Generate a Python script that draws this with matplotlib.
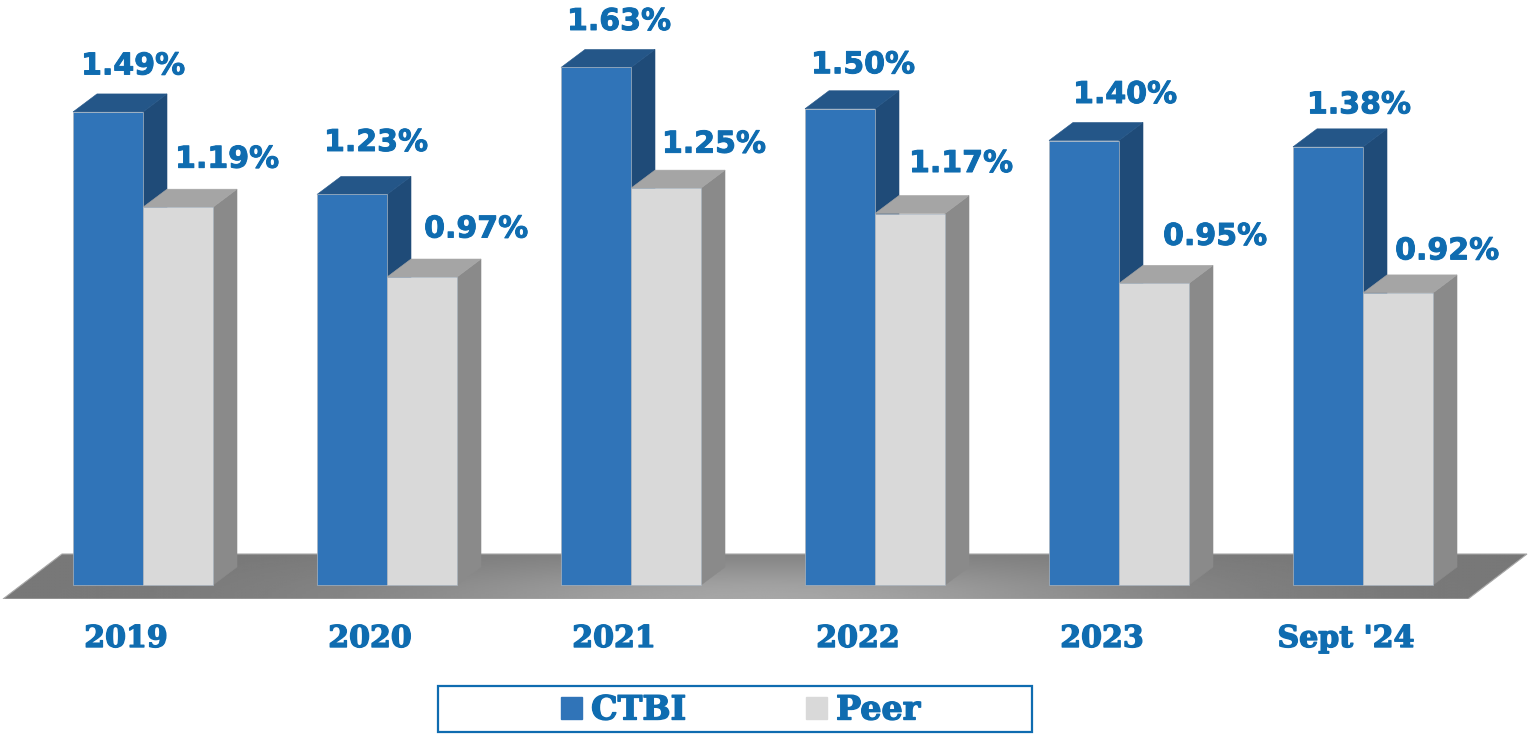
import numpy as np
from matplotlib import pyplot as plt
from matplotlib import patheffects as pe
from matplotlib.patches import Patch, Polygon, Rectangle

categories = ['2019', '2020', '2021', '2022', '2023', "Sept '24"]
ctbi = [1.49, 1.23, 1.63, 1.50, 1.40, 1.38]
peer = [1.19, 0.97, 1.25, 1.17, 0.95, 0.92]

# label nudges from the top of each bar, in pixels
ctbi_nudge = [(25, 46), (24, 52), (23, 46), (23, 44), (41, 46), (31, 42)]
peer_nudge = [(49, 48), (54, 48), (48, 44), (51, 50), (61, 47), (49, 42)]

PX_X = 244.0  # pixels per category
PX_Y = 317.5  # pixels per 1 percentage point
BAR_W = 70 / PX_X
DX = 24 / PX_X
DY = 18 / PX_Y

TEXT = '#0f6cb0'
BLUE = ('#3074b8', '#245688', '#1f4b78')
GREY = ('#d9d9d9', '#a5a5a5', '#8a8a8a')
SERIF = 'DejaVu Serif'
HEAVY = [pe.withStroke(linewidth=0.7, foreground=TEXT)]


def draw_bar(ax, left, value, colors):
    front, top, side = colors
    right = left + BAR_W
    ax.add_patch(Polygon([(right, 0), (right + DX, DY), (right + DX, value + DY), (right, value)],
                         facecolor=side, edgecolor=side, lw=0.4))
    ax.add_patch(Polygon([(left, value), (left + DX, value + DY), (right + DX, value + DY), (right, value)],
                         facecolor=top, edgecolor=top, lw=0.4))
    ax.add_patch(Rectangle((left, 0), BAR_W, value, facecolor=front, edgecolor='#a9b4bf', lw=0.5))


def draw_floor(ax):
    x0, x1 = (3 - 143) / PX_X, (1468 - 143) / PX_X
    shift = 59 / PX_X
    y0, y1 = -14 / PX_Y, 31 / PX_Y
    poly = Polygon([(x0, y0), (x0 + shift, y1), (x1 + shift, y1), (x1, y0)],
                   facecolor='none', edgecolor='#a8a8a8', lw=0.8)
    ax.add_patch(poly)
    gx, gy = np.meshgrid(np.linspace(-1, 1, 400), np.linspace(0, 1, 60))
    shade = np.exp(-(gx / 0.5) ** 2 - (gy / 0.9) ** 2)
    img = ax.imshow(shade, extent=(x0, x1 + shift, y0, y1), origin='lower', aspect='auto',
                    cmap='gray', vmin=-2.55, vmax=2.91)
    img.set_clip_path(poly)


def main():
    fig = plt.figure(figsize=(15.28, 7.35), dpi=100)
    ax = fig.add_axes([0, 136 / 735, 1, 599 / 735])

    draw_floor(ax)

    for i, (c, p) in enumerate(zip(ctbi, peer)):
        draw_bar(ax, i - BAR_W, c, BLUE)
        draw_bar(ax, i, p, GREY)
        for value, center, nudge in ((c, i - BAR_W / 2, ctbi_nudge[i]), (p, i + BAR_W / 2, peer_nudge[i])):
            ax.annotate(f'{value:.2f}%', (center, value), xytext=nudge, textcoords='offset pixels',
                        ha='center', va='center', color=TEXT, fontsize=21.6, fontweight='bold',
                        path_effects=HEAVY)

    ax.set_xlim(-143 / PX_X, (1528 - 143) / PX_X)
    ax.set_ylim(-14 / PX_Y, 585 / PX_Y)
    ax.set_xticks(np.arange(len(categories)) - 17 / PX_X)
    ax.set_xticklabels(categories, family=SERIF, fontweight='bold', fontsize=21.6, color=TEXT,
                       path_effects=[pe.withStroke(linewidth=1.0, foreground=TEXT)])
    ax.tick_params(axis='x', length=0, pad=18)
    ax.set_yticks([])
    for spine in ax.spines.values():
        spine.set_visible(False)

    fig.add_artist(Rectangle((438 / 1528, 3 / 735), 594 / 1528, 46 / 735, transform=fig.transFigure,
                             facecolor='white', edgecolor=TEXT, lw=1.6))
    handles = [Patch(color=BLUE[0], label='CTBI'), Patch(color=GREY[0], label='Peer')]
    leg = fig.legend(handles=handles, loc='center', bbox_to_anchor=(741 / 1528, 25 / 735), ncol=2,
                     frameon=False, handlelength=0.62, handleheight=0.62, handletextpad=0.27,
                     columnspacing=3.6, labelcolor=TEXT,
                     prop={'family': SERIF, 'weight': 'bold', 'size': 24})
    for label in leg.get_texts():
        label.set_path_effects([pe.withStroke(linewidth=1.0, foreground=TEXT)])

    fig.savefig('out.png', dpi=100)


if __name__ == '__main__':
    main()
